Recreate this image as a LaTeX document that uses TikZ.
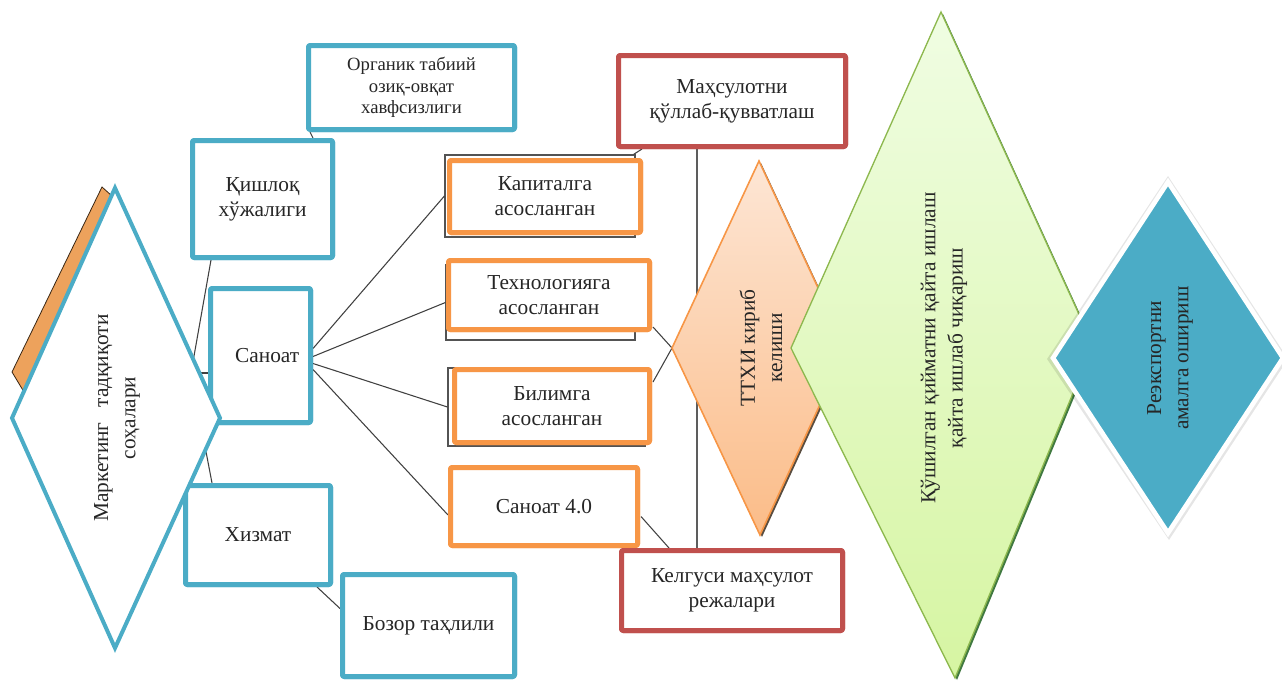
\documentclass[tikz,border=0pt]{standalone}
\usepackage{fontspec}
\setmainfont{Liberation Serif}
\usetikzlibrary{calc}
\definecolor{cblue}{HTML}{4BACC6}
\definecolor{corange}{HTML}{F79646}
\definecolor{cred}{HTML}{C0504D}
\definecolor{cline}{HTML}{404040}
\definecolor{ctext}{HTML}{262626}
\definecolor{cshadeor}{HTML}{EDA25C}
\definecolor{orgtop}{HTML}{FDE6D5}
\definecolor{orgbot}{HTML}{FBBC88}
\definecolor{grntop}{HTML}{F0FDE3}
\definecolor{grnbot}{HTML}{D6F5A2}
\definecolor{grnline}{HTML}{8DB84E}
\begin{document}
\begin{tikzpicture}[x=0.75pt,y=-0.75pt,
  box/.style={draw, line width=3.75pt, fill=white, rounded corners=1.5pt, align=center,
    text=ctext, font=\fontsize{16}{18.75}\selectfont, inner sep=0pt},
  bbox/.style={box, draw=cblue},
  obox/.style={box, draw=corange},
  rbox/.style={box, draw=cred},
  smalltxt/.style={font=\fontsize{14}{16.25}\selectfont},
  conn/.style={draw=cline, line width=0.8pt},
  gframe/.style={draw=cline!90, line width=0.9pt, inner sep=0pt},
  dtext/.style={rotate=90, align=center, text=ctext, font=\fontsize{16}{20.5}\selectfont}]
\useasboundingbox (0,0) rectangle (1282,682);

% shadow frames behind orange boxes
\node[gframe, minimum width=142.5pt, minimum height=61.5pt] (kapf) at (540,196) {};
\node[gframe, minimum width=141.75pt, minimum height=56.25pt] (texf) at (540.5,302.5) {};
\node[gframe, minimum width=147.75pt, minimum height=58.5pt] (bilf) at (546.5,407) {};

% box positions (named)
\node[bbox, smalltxt, minimum width=154.5pt, minimum height=63pt] (org) at (411.5,87.5) {Органик табиий\\озиқ-овқат\\хавфсизлиги};
\node[bbox, minimum width=105pt, minimum height=87.75pt] (kish) at (262.5,199) {Қишлоқ\\хўжалиги};
\node[bbox, minimum width=75pt, minimum height=100.5pt] (san) at (260.5,355.5) {\hspace*{10pt}Саноат};
\node[bbox, minimum width=108.75pt, minimum height=74.25pt] (xiz) at (258,535) {Хизмат};
\node[bbox, minimum width=129pt, minimum height=76.5pt] (boz) at (428.5,625.5) {Бозор таҳлили};
\node[obox, minimum width=143.25pt, minimum height=54pt] (kap) at (545,196.5) {Капиталга\\асосланган};
\node[obox, minimum width=150.75pt, minimum height=51.75pt] (tex) at (549,295) {Технологияга\\асосланган};
\node[obox, minimum width=146.25pt, minimum height=54.75pt] (bil) at (552,406) {Билимга\\асосланган};
\node[obox, minimum width=140.25pt, minimum height=58.5pt] (s40) at (544,506.5) {Саноат 4.0};
\node[rbox, minimum width=170.25pt, minimum height=68.25pt] (red1) at (732,101) {Маҳсулотни\\қўллаб-қувватлаш};
\node[rbox, minimum width=165.75pt, minimum height=60pt] (red2) at (732,590.5) {Келгуси маҳсулот\\режалари};

% connectors
\coordinate (hub) at (191,373);
\coordinate (ttxiL) at (672,348);
\begin{scope}[conn]
  \draw (hub) -- ($(kish.south west)+(21,0)$);
  \draw (hub) -- ($(san.west)+(0,17.5)$);
  \draw (hub) -- ($(xiz.north west)+(29,0)$);
  \draw ($(org.south west)+(4,0)$) -- ($(kish.north east)+(-22,0)$);
  \draw ($(xiz.south east)+(-16,0)$) -- ($(boz.west)+(0,-17)$);
  \draw ($(san.east)+(0,-7)$) -- (kapf.west);
  \draw ($(san.east)+(0,1)$) -- (texf.west);
  \draw ($(san.east)+(0,8)$) -- (bilf.west);
  \draw ($(san.east)+(0,14)$) -- ($(s40.west)+(0,8.5)$);
  \draw ($(tex.south east)+(1,-5)$) -- (ttxiL);
  \draw ($(bil.east)+(1,-24)$) -- (ttxiL);
  \draw ($(s40.east)+(1,10)$) -- ($(red2.north west)+(50,0)$);
  \draw ($(kapf.north east)+(-2,0)$) -- ($(red1.south west)+(26,0)$);
  \draw[line width=1pt, draw=cline!85] ($(red1.south west)+(81,0)$) -- ($(red2.north west)+(78,0)$);
\end{scope}

% boxes drawn again over the connectors
\node[bbox, smalltxt, minimum width=154.5pt, minimum height=63pt] at (org) {Органик табиий\\озиқ-овқат\\хавфсизлиги};
\node[bbox, minimum width=105pt, minimum height=87.75pt] at (kish) {Қишлоқ\\хўжалиги};
\node[bbox, minimum width=75pt, minimum height=100.5pt] at (san) {\hspace*{10pt}Саноат};
\node[bbox, minimum width=108.75pt, minimum height=74.25pt] at (xiz) {Хизмат};
\node[bbox, minimum width=129pt, minimum height=76.5pt] at (boz) {Бозор таҳлили};
\node[obox, minimum width=143.25pt, minimum height=54pt] at (kap) {Капиталга\\асосланган};
\node[obox, minimum width=150.75pt, minimum height=51.75pt] at (tex) {Технологияга\\асосланган};
\node[obox, minimum width=146.25pt, minimum height=54.75pt] at (bil) {Билимга\\асосланган};
\node[obox, minimum width=140.25pt, minimum height=58.5pt] at (s40) {Саноат 4.0};
\node[rbox, minimum width=170.25pt, minimum height=68.25pt] at (red1) {Маҳсулотни\\қўллаб-қувватлаш};
\node[rbox, minimum width=165.75pt, minimum height=60pt] at (red2) {Келгуси маҳсулот\\режалари};

% left diamond with orange edge
\draw[fill=cshadeor, draw=black!70!brown, line width=0.6pt] (102,187) -- (12,372) -- (24,392) -- (112,196) -- cycle;
\draw[draw=cblue, fill=white, line width=3pt, line join=miter] (115,188) -- (220,418) -- (115,648) -- (12,418) -- cycle;
\node[dtext] (mk) at (117,418) {Маркетинг\hspace{0.7em}тадқиқоти\\соҳалари};

% orange diamond
\fill[black!75!brown, opacity=0.8] (761,163) -- (848,350) -- (762,537) -- (674,350) -- cycle;
\shade[top color=orgtop, bottom color=orgbot] (759,161) -- (846,348) -- (760,535) -- (672,348) -- cycle;
\draw[draw=corange, line width=1.2pt, line join=miter] (759,161) -- (846,348) -- (760,535) -- (672,348) -- cycle;
\node[dtext] (ttxi) at (761,348) {ТТХИ кириб\\келиши};

% green diamond
\fill[black!70!green, opacity=0.75] (943,14) -- (1095,347) -- (957,680) -- (793,350) -- cycle;
\shade[top color=grntop, bottom color=grnbot] (941,12) -- (1093,345) -- (955,678) -- (791,348) -- cycle;
\draw[draw=grnline, line width=1pt, line join=miter] (941,12) -- (1093,345) -- (955,678) -- (791,348) -- cycle;
\node[dtext] (grn) at (944,348) {Қўшилган қийматни қайта ишлаш\\қайта ишлаб чиқариш};

% blue diamond
\fill[black, opacity=0.10] (1168,176) -- (1288,359) -- (1169,540) -- (1047,359) -- cycle;
\draw[fill=cblue, draw=white, line width=3.5pt, line join=miter] (1168,182) -- (1283,358) -- (1168,533) -- (1053,358) -- cycle;
\node[dtext] (rex) at (1170,358) {Реэкспортни\\амалга ошириш};
\end{tikzpicture}
\end{document}
